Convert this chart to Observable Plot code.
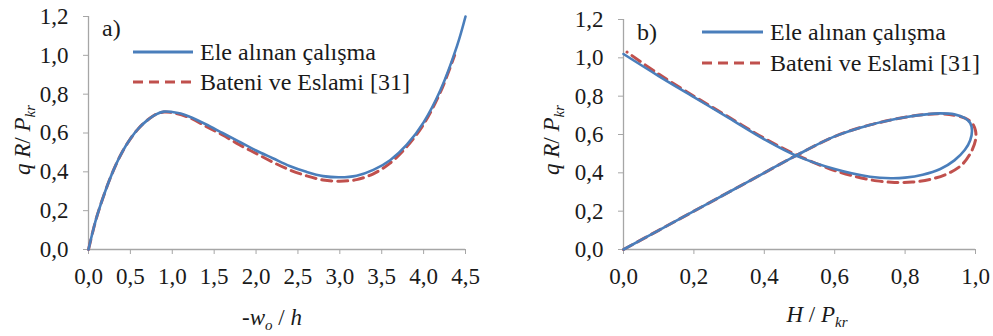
<!DOCTYPE html>
<html><head><meta charset="utf-8">
<script src="https://cdn.jsdelivr.net/npm/d3@7"></script>
<script src="https://cdn.jsdelivr.net/npm/@observablehq/plot@0.6"></script>
<style>
body{margin:0;background:#fff;}
#wrap{position:relative;width:993px;height:336px;font-family:'Liberation Serif','Times New Roman',serif;}
#wrap svg{position:absolute;top:0;overflow:visible;}
#wrap svg text, #wrap svg tspan{font-family:'Liberation Serif','Times New Roman',serif !important;}
</style></head><body><div id="wrap"></div>
<script>
// ---- data ----
const seriesNames = ["Ele alınan çalışma", "Bateni ve Eslami [31]"];
const panelTags = ["a)", "b)"];
const yTicks = [0, 0.2, 0.4, 0.6, 0.8, 1.0, 1.2];
const xTicksA = [0, 0.5, 1.0, 1.5, 2.0, 2.5, 3.0, 3.5, 4.0, 4.5];
const xTicksB = [0, 0.2, 0.4, 0.6, 0.8, 1.0];

// panel a: q R / P_kr versus -w_o / h
const aBlueX = [0, 0.05, 0.1, 0.2, 0.3, 0.4, 0.5, 0.6, 0.7, 0.8, 0.9, 1.0, 1.1, 1.2, 1.4, 1.6, 1.8, 2.0, 2.2, 2.4, 2.6, 2.8, 3.0, 3.2, 3.4, 3.6, 3.8, 4.0, 4.2, 4.4, 4.5];
const aBlueY = [0, 0.09, 0.17, 0.30, 0.41, 0.50, 0.57, 0.625, 0.665, 0.695, 0.71, 0.708, 0.70, 0.685, 0.645, 0.60, 0.555, 0.51, 0.47, 0.43, 0.40, 0.378, 0.372, 0.38, 0.41, 0.46, 0.54, 0.655, 0.82, 1.05, 1.2];
const aRedX = [0, 0.05, 0.1, 0.2, 0.3, 0.4, 0.5, 0.6, 0.7, 0.8, 0.9, 1.0, 1.2, 1.4, 1.6, 1.8, 2.0, 2.2, 2.4, 2.6, 2.8, 3.0, 3.2, 3.4, 3.6, 3.8, 4.0, 4.2, 4.37];
const aRedY = [0, 0.09, 0.17, 0.30, 0.41, 0.50, 0.57, 0.625, 0.665, 0.695, 0.708, 0.705, 0.68, 0.635, 0.59, 0.54, 0.495, 0.45, 0.41, 0.38, 0.358, 0.352, 0.36, 0.39, 0.445, 0.53, 0.645, 0.81, 1.0];

// panel b: q R / P_kr versus H / P_kr (path order)
const bBlueX = [0, 0.1, 0.2, 0.3, 0.4, 0.49, 0.6, 0.7, 0.8, 0.86, 0.9, 0.94, 0.97, 0.985, 0.99, 0.985, 0.97, 0.94, 0.9, 0.85, 0.8, 0.76, 0.7, 0.6, 0.49, 0.4, 0.3, 0.2, 0.1, 0];
const bBlueY = [0, 0.1, 0.2, 0.3, 0.4, 0.49, 0.59, 0.65, 0.69, 0.705, 0.71, 0.705, 0.685, 0.66, 0.62, 0.57, 0.52, 0.465, 0.42, 0.39, 0.375, 0.372, 0.38, 0.42, 0.49, 0.575, 0.685, 0.795, 0.905, 1.02];
const bRedX = [0, 0.1, 0.2, 0.3, 0.4, 0.49, 0.6, 0.7, 0.8, 0.86, 0.9, 0.94, 0.97, 0.99, 1.0, 1.0, 0.985, 0.96, 0.92, 0.87, 0.82, 0.77, 0.72, 0.65, 0.58, 0.49, 0.4, 0.3, 0.2, 0.1, 0.01];
const bRedY = [0, 0.1, 0.2, 0.3, 0.4, 0.49, 0.59, 0.65, 0.69, 0.705, 0.708, 0.70, 0.685, 0.66, 0.62, 0.57, 0.5, 0.44, 0.395, 0.365, 0.352, 0.35, 0.358, 0.385, 0.425, 0.495, 0.58, 0.69, 0.80, 0.915, 1.03];

// ---- styles ----
const BLUE = "#4a7ebb", RED = "#c0504d", AXIS = "#a6a6a6", TXT = "#1a1a1a";
const FONT = "'Liberation Serif','Times New Roman',serif";
const TICK_FS = 23, LEG_FS = 24, TITLE_FS = 23, SUB_FS = 15;
const fmt = d => d3.format(".1f")(d).replace(".", ",");
const zip = (xs, ys) => xs.map((x, i) => ({x, y: ys[i]}));

function makePanel(o) {
  const svg = Plot.plot({
    width: o.width, height: 336,
    marginLeft: o.ml, marginRight: o.mr, marginTop: o.mt, marginBottom: 87,
    style: {fontFamily: FONT, fontSize: TICK_FS + "px", color: TXT, background: "transparent", overflow: "visible"},
    x: {domain: o.xDomain, label: null},
    y: {domain: [0, 1.2], label: null},
    marks: [
      Plot.ruleY([0], {stroke: AXIS, strokeWidth: 1.3}),
      Plot.ruleX([0], {stroke: AXIS, strokeWidth: 1.3}),
      Plot.axisX({ticks: o.xTicks, tickFormat: fmt, tickSize: 5, tickPadding: 13, stroke: AXIS, fill: TXT, fontSize: TICK_FS, label: null}),
      Plot.axisY({ticks: yTicks, tickFormat: fmt, tickSize: 5, tickPadding: 15, stroke: AXIS, fill: TXT, fontSize: TICK_FS, label: null}),
      Plot.line(o.red, {x: "x", y: "y", stroke: RED, strokeWidth: 3, strokeDasharray: "10,6", curve: "catmull-rom"}),
      Plot.line(o.blue, {x: "x", y: "y", stroke: BLUE, strokeWidth: 2.6, curve: "catmull-rom"})
    ]
  });
  svg.style.left = o.left + "px";
  const s = d3.select(svg);
  const g = s.append("g").attr("font-family", FONT).attr("fill", TXT).attr("text-anchor", "start");
  g.append("text").attr("x", o.tag[0]).attr("y", o.tag[1]).attr("font-size", LEG_FS).text(o.tagText);
  const L = o.legend;
  g.append("line").attr("x1", L.x0).attr("x2", L.x1).attr("y1", L.y0).attr("y2", L.y0).attr("stroke", BLUE).attr("stroke-width", 2.8);
  g.append("line").attr("x1", L.x0).attr("x2", L.x1).attr("y1", L.y1).attr("y2", L.y1).attr("stroke", RED).attr("stroke-width", 3).attr("stroke-dasharray", "10,6");
  g.append("text").attr("x", L.x1 + 7).attr("y", L.y0 + 8).attr("font-size", LEG_FS).attr("text-anchor", "start").text(seriesNames[0]);
  g.append("text").attr("x", L.x1 + 7).attr("y", L.y1 + 8).attr("font-size", LEG_FS).attr("text-anchor", "start").text(seriesNames[1]);
  const yt = g.append("text").attr("font-size", TITLE_FS).attr("text-anchor", "middle")
    .attr("transform", `translate(${o.yt[0]},${o.yt[1]}) rotate(-90)`);
  yt.append("tspan").attr("font-style", "italic").text("q R");
  yt.append("tspan").text("/ ");
  yt.append("tspan").attr("font-style", "italic").text("P");
  yt.append("tspan").attr("font-style", "italic").attr("font-size", SUB_FS).attr("dy", 5).text("kr");
  const xt = g.append("text").attr("font-size", TITLE_FS).attr("text-anchor", "middle")
    .attr("x", o.xt[0]).attr("y", o.xt[1]);
  o.xTitle(xt);
  return svg;
}

const wrap = document.getElementById("wrap");
wrap.appendChild(makePanel({
  left: 0, width: 496, ml: 88, mr: 31, mt: 16,
  xDomain: [0, 4.5], xTicks: xTicksA,
  blue: zip(aBlueX, aBlueY), red: zip(aRedX, aRedY),
  tag: [102, 36], tagText: panelTags[0],
  legend: {x0: 133, x1: 193, y0: 52, y1: 82},
  yt: [30, 140], xt: [272, 325],
  xTitle: t => {
    t.append("tspan").text("-");
    t.append("tspan").attr("font-style", "italic").text("w");
    t.append("tspan").attr("font-style", "italic").attr("font-size", SUB_FS).attr("dy", 5).text("o");
    t.append("tspan").attr("dy", -5).text(" / ");
    t.append("tspan").attr("font-style", "italic").text("h");
  }
}));
wrap.appendChild(makePanel({
  left: 496, width: 497, ml: 127, mr: 18, mt: 19,
  xDomain: [0, 1.0], xTicks: xTicksB,
  blue: zip(bBlueX, bBlueY), red: zip(bRedX, bRedY),
  tag: [141, 40], tagText: panelTags[1],
  legend: {x0: 206, x1: 267, y0: 32, y1: 63},
  yt: [63, 140], xt: [321, 322],
  xTitle: t => {
    t.append("tspan").attr("font-style", "italic").text("H");
    t.append("tspan").text(" / ");
    t.append("tspan").attr("font-style", "italic").text("P");
    t.append("tspan").attr("font-style", "italic").attr("font-size", SUB_FS).attr("dy", 5).text("kr");
  }
}));
</script></body></html>
